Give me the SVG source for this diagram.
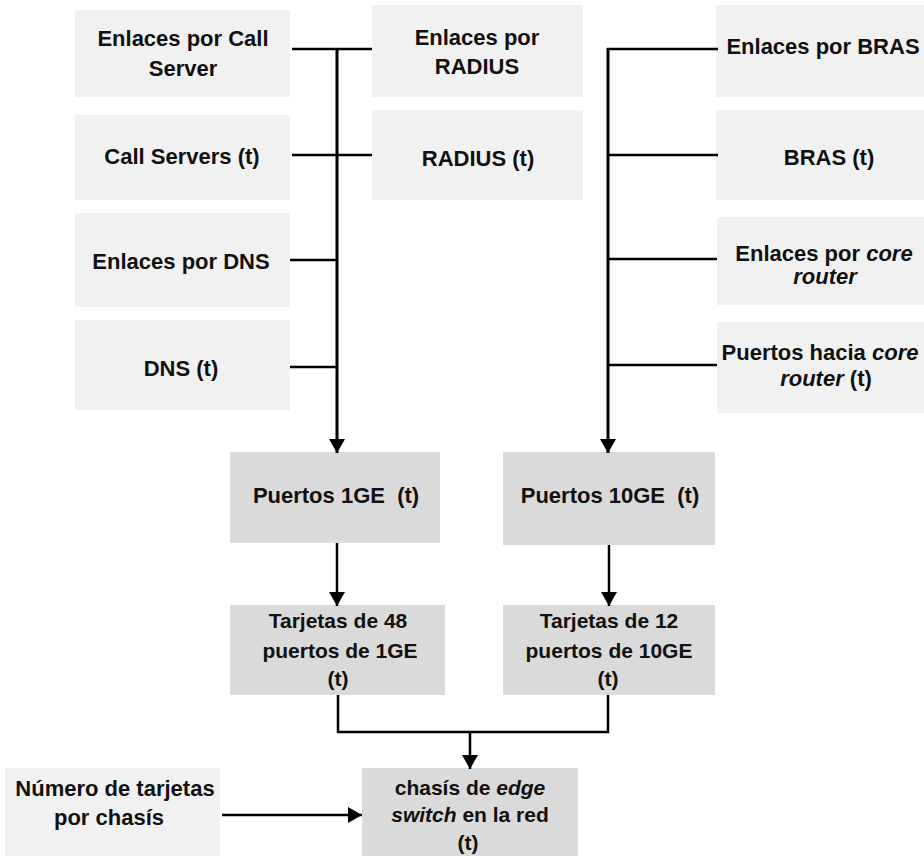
<svg xmlns="http://www.w3.org/2000/svg" width="924" height="859" viewBox="0 0 924 859">
<style>
  .t { font-family: "Liberation Sans", Arial, sans-serif; font-size: 22px; font-weight: bold; fill: #111; text-anchor: middle; }
  .s { font-size: 21px; }
  .i { font-style: italic; }
  .bgl { fill: #f1f1f1; }
  .bgd { fill: #dadada; }
  .ln { stroke: #000; stroke-width: 2.5; fill: none; }
  .tr { stroke: #000; stroke-width: 3; fill: none; }
</style>
<defs>
  <marker id="ah" viewBox="0 0 14 16" refX="14" refY="8" markerWidth="14" markerHeight="16" orient="auto" markerUnits="userSpaceOnUse">
    <path d="M0,0 L14,8 L0,16 z" fill="#000"/>
  </marker>
</defs>
<rect width="924" height="859" fill="#fff"/>

<g id="n-enlaces-call">
  <rect class="bgl" x="75" y="10" width="215" height="87"/>
  <text class="t" x="183" y="46">Enlaces por Call</text>
  <text class="t" x="183" y="76">Server</text>
</g>
<g id="n-call-servers">
  <rect class="bgl" x="75" y="115" width="215" height="85"/>
  <text class="t" x="182" y="164">Call Servers (t)</text>
</g>
<g id="n-enlaces-dns">
  <rect class="bgl" x="75" y="213" width="215" height="94"/>
  <text class="t" x="181" y="269">Enlaces por DNS</text>
</g>
<g id="n-dns">
  <rect class="bgl" x="75" y="320" width="215" height="90"/>
  <text class="t" x="181" y="376">DNS (t)</text>
</g>

<g id="n-enlaces-radius">
  <rect class="bgl" x="372" y="5" width="211" height="92"/>
  <text class="t" x="477" y="45">Enlaces por</text>
  <text class="t" x="477" y="74">RADIUS</text>
</g>
<g id="n-radius">
  <rect class="bgl" x="372" y="110" width="211" height="90"/>
  <text class="t" x="478" y="166">RADIUS (t)</text>
</g>

<g id="n-enlaces-bras">
  <rect class="bgl" x="716" y="5" width="208" height="92"/>
  <text class="t" x="823" y="54">Enlaces por BRAS</text>
</g>
<g id="n-bras">
  <rect class="bgl" x="716" y="110" width="208" height="90"/>
  <text class="t" x="829" y="165">BRAS (t)</text>
</g>
<g id="n-enlaces-core">
  <rect class="bgl" x="717" y="217" width="207" height="88"/>
  <text class="t" x="824" y="261">Enlaces por <tspan class="i">core</tspan></text>
  <text class="t i" x="825" y="284">router</text>
</g>
<g id="n-puertos-core">
  <rect class="bgl" x="717" y="322" width="207" height="91"/>
  <text class="t" x="820" y="360">Puertos hacia <tspan class="i">core</tspan></text>
  <text class="t" x="826" y="386"><tspan class="i">router</tspan> (t)</text>
</g>

<g id="n-puertos-1ge">
  <rect class="bgd" x="230" y="452" width="210" height="91"/>
  <text class="t" x="336" y="503" xml:space="preserve">Puertos 1GE  (t)</text>
</g>
<g id="n-puertos-10ge">
  <rect class="bgd" x="503" y="452" width="212" height="93"/>
  <text class="t" x="610" y="503" xml:space="preserve">Puertos 10GE  (t)</text>
</g>
<g id="n-tarjetas-48">
  <rect class="bgd" x="230" y="605" width="215" height="90"/>
  <text class="t s" x="338" y="628">Tarjetas de 48</text>
  <text class="t s" x="340" y="658">puertos de 1GE</text>
  <text class="t s" x="338" y="686">(t)</text>
</g>
<g id="n-tarjetas-12">
  <rect class="bgd" x="503" y="605" width="212" height="90"/>
  <text class="t s" x="609" y="628">Tarjetas de 12</text>
  <text class="t s" x="609" y="658">puertos de 10GE</text>
  <text class="t s" x="608" y="686">(t)</text>
</g>
<g id="n-chasis">
  <rect class="bgd" x="362" y="768" width="216" height="88"/>
  <text class="t s" x="470" y="795">chasís de <tspan class="i">edge</tspan></text>
  <text class="t s" x="470" y="822"><tspan class="i">switch</tspan> en la red</text>
  <text class="t s" x="468" y="850">(t)</text>
</g>
<g id="n-numero">
  <rect class="bgl" x="5" y="768" width="215" height="88"/>
  <text class="t" x="115" y="796">Número de tarjetas</text>
  <text class="t" x="109" y="825">por chasís</text>
</g>

<g id="connectors">
  <line class="ln" x1="292" y1="49" x2="372" y2="49"/>
  <line class="ln" x1="292" y1="155" x2="372" y2="155"/>
  <line class="ln" x1="290" y1="260" x2="337" y2="260"/>
  <line class="ln" x1="290" y1="367" x2="337" y2="367"/>
  <line class="tr" x1="337" y1="48" x2="337" y2="453" marker-end="url(#ah)"/>
  <line class="ln" x1="607" y1="49" x2="718" y2="49"/>
  <line class="ln" x1="607" y1="155" x2="718" y2="155"/>
  <line class="ln" x1="607" y1="259" x2="717" y2="259"/>
  <line class="ln" x1="607" y1="365" x2="717" y2="365"/>
  <line class="tr" x1="608" y1="48" x2="608" y2="453" marker-end="url(#ah)"/>
  <line class="ln" x1="337" y1="543" x2="337" y2="606" marker-end="url(#ah)"/>
  <line class="ln" x1="609" y1="545" x2="609" y2="606" marker-end="url(#ah)"/>
  <polyline class="ln" points="338,695 338,732 608,732 608,695"/>
  <line class="ln" x1="470" y1="732" x2="470" y2="769" marker-end="url(#ah)"/>
  <line class="ln" x1="222" y1="815" x2="362" y2="815" marker-end="url(#ah)"/>
</g>
</svg>
